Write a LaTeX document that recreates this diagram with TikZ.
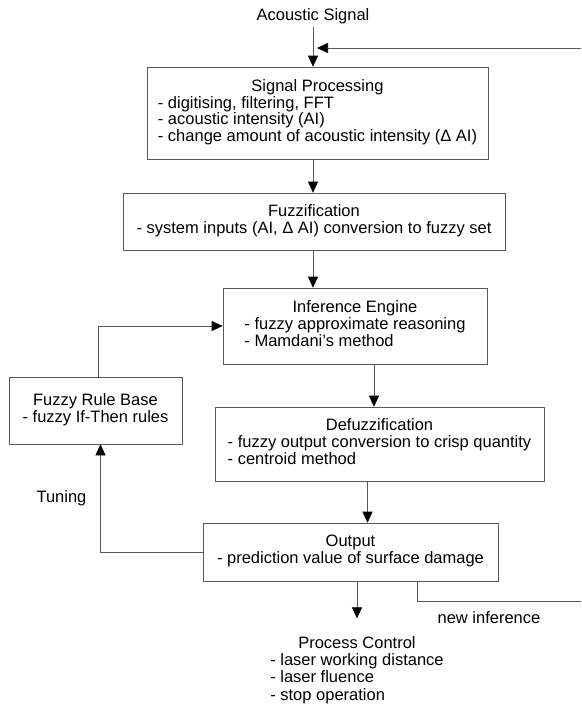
\documentclass[tikz,border=0pt]{standalone}
\usepackage{fontspec}
\setmainfont{Liberation Sans}
\usetikzlibrary{positioning,arrows.meta,calc}
\newcommand{\blk}[2]{\begin{tabular}{@{}l@{}}\multicolumn{1}{@{}c@{}}{#1}\\#2\end{tabular}}

\begin{document}
\begin{tikzpicture}[x=1pt,y=-1pt,font=\fontsize{16.5}{17}\selectfont,
  box/.style={draw=black!65,line width=0.6pt,inner sep=0pt},
  ln/.style={draw=black!65,line width=0.6pt},
  arr/.style={ln,-{Triangle[length=11pt,width=10pt,color=black]}}]
  \useasboundingbox (0,0) rectangle (581,704);
  \node (sig) at (313,16) {Acoustic Signal};
  \node[box,minimum width=341pt,minimum height=92pt] (sp) at (317.5,113)
    {\renewcommand{\arraystretch}{0.9}\blk{Signal Processing}{- digitising, filtering, FFT\\- acoustic intensity (AI)\\- change amount of acoustic intensity (Δ AI)}};
  \node[box,minimum width=382pt,minimum height=57pt] (fz) at (314,221.5)
    {\blk{Fuzzification}{- system inputs (AI, Δ AI) conversion to fuzzy set}};
  \node[box,minimum width=264pt,minimum height=76pt] (inf) at (355,326)
    {\blk{Inference Engine}{- fuzzy approximate reasoning\\- Mamdani\symbol{39}s method}};
  \node[box,minimum width=173pt,minimum height=67pt] (frb) at (95.5,410.5)
    {\blk{Fuzzy Rule Base}{- fuzzy If-Then rules}};
  \node[box,minimum width=329pt,minimum height=74pt] (dfz) at (379.5,444)
    {\blk{Defuzzification}{- fuzzy output conversion to crisp quantity\\- centroid method}};
  \node[box,minimum width=295pt,minimum height=58pt] (out) at (350.5,552)
    {\blk{Output}{- prediction value of surface damage}};
  \node (pc) at (357,671)
    {\blk{Process Control}{- laser working distance\\- laser fluence\\- stop operation}};
  \node (tun) at (61.5,498) {Tuning};
  \node (ni) at (489,618) {new inference};
  \coordinate (rt) at (581,48);
  \coordinate (rb) at (581,601);
  % main chain
  \draw[arr] (sig) -- (sig |- sp.north);
  \draw[arr,shorten >=4pt] (rt) -- (sig |- rt);
  \draw[arr] (sig |- sp.south) -- (sig |- fz.north);
  \draw[arr] (sig |- fz.south) -- (sig |- inf.north);
  \draw[arr] ([xshift=19pt]inf.south) -- ([xshift=19pt]inf.south |- dfz.north);
  \draw[arr] ([xshift=-12pt]dfz.south) -- ([xshift=-12pt]dfz.south |- out.north);
  \draw[arr] (pc.north |- out.south) -- ([yshift=15pt]pc.north);
  % feedback
  \draw[arr] (out.west) -| ([xshift=5pt]frb.south);
  \draw[arr] ([xshift=3pt]frb.north) |- (inf.west);
  \draw[ln] ([xshift=66.5pt]out.south) |- (rb);
\end{tikzpicture}
\end{document}
